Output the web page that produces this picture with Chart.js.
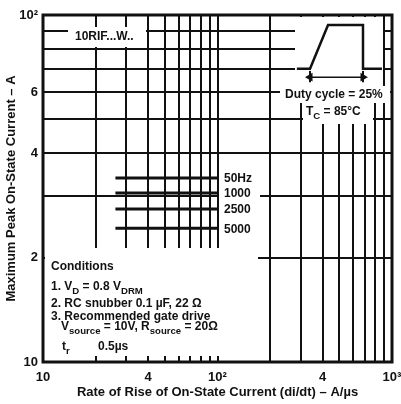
<!DOCTYPE html>
<html>
<head>
<meta charset="utf-8">
<script src="https://cdn.jsdelivr.net/npm/chart.js@4.4.0/dist/chart.umd.min.js"></script>
<style>
  html, body { margin: 0; padding: 0; background: #fff; }
</style>
</head>
<body>
<canvas id="chart" width="401" height="404"></canvas>
<script>
// Rejilla logarítmica
const xGrid = [10, 20, 30, 40, 50, 60, 70, 80, 90, 100, 200, 300, 400, 500, 600, 700, 800, 900, 1000];
const yGrid = [10, 20, 30, 40, 50, 60, 70, 80, 90, 100];
const xTickLabels = { 10: '10', 40: '4', 100: '10²', 400: '4', 1000: '10³' };
const yTickLabels = { 10: '10', 20: '2', 40: '4', 60: '6', 100: '10²' };

// Trazos de la leyenda (frecuencia de repetición)
const seriesNames = ['50Hz', '1000', '2500', '5000'];
const seriesLevels = [33.9, 30.7, 27.6, 24.3];
const seriesSpan = [26, 100];

// Esquema del pulso de corriente
const pulseX = [285, 339, 430, 682, 682, 876];
const pulseY = [70, 70, 93.6, 93.6, 70, 70];
const dimX = [339, 682];
const dimLevel = 66.2;
const dimTick = [64, 69];

const FONT = '"Liberation Sans", Arial, sans-serif';
const INK = '#111';

const datasets = [];

seriesLevels.forEach((lvl, i) => {
    datasets.push({
        label: seriesNames[i],
        data: seriesSpan.map(x => ({ x: x, y: lvl })),
        borderColor: INK,
        borderWidth: 3,
        pointRadius: 0
    });
});

datasets.push({
    label: 'pulso',
    data: pulseX.map((x, i) => ({ x: x, y: pulseY[i] })),
    borderColor: INK,
    borderWidth: 2.5,
    pointRadius: 0
});

datasets.push({
    label: 'cota',
    data: dimX.map(x => ({ x: x, y: dimLevel })),
    borderColor: INK,
    borderWidth: 1.5,
    pointStyle: 'triangle',
    pointRadius: 3.5,
    pointRotation: [270, 90],
    pointBackgroundColor: INK,
    pointBorderColor: INK
});

dimX.forEach(x => {
    datasets.push({
        label: 'tope',
        data: dimTick.map(y => ({ x: x, y: y })),
        borderColor: INK,
        borderWidth: 2,
        pointRadius: 0
    });
});

// Texto con subíndices
function drawRich(ctx, x, y, parts, size) {
    let cx = x;
    parts.forEach(p => {
        const txt = typeof p === 'string' ? p : p[0];
        const kind = typeof p === 'string' ? null : p[1];
        const fs = kind ? size * 0.8 : size;
        ctx.font = 'bold ' + fs + 'px ' + FONT;
        const dy = kind === 'sub' ? size * 0.35 : 0;
        ctx.fillText(txt, cx, y + dy);
        cx += ctx.measureText(txt).width;
    });
}

// Zonas en blanco donde el original interrumpe la rejilla
const maskPlugin = {
    id: 'masks',
    beforeDatasetsDraw(chart) {
        const ctx = chart.ctx;
        const boxes = [
            [68, 27, 146, 47],     // etiqueta del tipo
            [295, 17, 383, 86],    // pulso
            [280, 86, 390, 103],   // duty cycle
            [303, 103, 373, 124],  // Tc
            [219, 168, 260, 236],  // nombres de la leyenda
            [45, 248, 258, 356]    // condiciones
        ];
        ctx.save();
        ctx.fillStyle = '#fff';
        boxes.forEach(b => ctx.fillRect(b[0], b[1], b[2] - b[0], b[3] - b[1]));
        ctx.restore();
    },
    afterDraw(chart) {
        const ctx = chart.ctx;
        const a = chart.chartArea;
        ctx.save();
        ctx.strokeStyle = INK;
        ctx.lineWidth = 3;
        ctx.strokeRect(a.left, a.top, a.right - a.left, a.bottom - a.top);

        ctx.fillStyle = INK;
        ctx.textBaseline = 'middle';
        ctx.textAlign = 'left';

        drawRich(ctx, 75, 37, ['10RIF...W..'], 12);

        seriesNames.forEach((name, i) => {
            const y = chart.scales.y.getPixelForValue(seriesLevels[i]);
            drawRich(ctx, 224, y + 1, [name], 12);
        });

        drawRich(ctx, 285, 95, ['Duty cycle = 25%'], 12);
        drawRich(ctx, 306, 112, ['T', ['C', 'sub'], ' = 85°C'], 12);

        drawRich(ctx, 51, 267, ['Conditions'], 12);
        drawRich(ctx, 51, 287, ['1. V', ['D', 'sub'], ' = 0.8 V', ['DRM', 'sub']], 12);
        drawRich(ctx, 51, 304, ['2. RC snubber 0.1 µF, 22 Ω'], 12);
        drawRich(ctx, 51, 317, ['3. Recommended gate drive'], 12);
        drawRich(ctx, 61, 327, ['V', ['source', 'sub'], ' = 10V, R', ['source', 'sub'], ' = 20Ω'], 12);
        drawRich(ctx, 62, 347, ['t', ['r', 'sub']], 12);
        drawRich(ctx, 98, 347, ['0.5µs'], 12);
        ctx.restore();
    }
};

function fixedTicks(values) {
    return scale => {
        scale.ticks = values.map(v => ({ value: v }));
    };
}

new Chart(document.getElementById('chart'), {
    type: 'line',
    data: { datasets: datasets },
    options: {
        responsive: false,
        animation: false,
        parsing: true,
        layout: { padding: { top: 15, right: 9, left: 0, bottom: 0 } },
        plugins: {
            legend: { display: false },
            tooltip: { enabled: false }
        },
        elements: { line: { tension: 0, borderCapStyle: 'butt' } },
        scales: {
            x: {
                type: 'logarithmic',
                min: 10,
                max: 1000,
                afterBuildTicks: fixedTicks(xGrid),
                afterFit: scale => {
                    scale.height = 42;
                    scale.paddingLeft = 0;
                    scale.paddingRight = 0;
                },
                grid: { color: INK, lineWidth: 2, drawTicks: false },
                border: { display: false },
                ticks: {
                    autoSkip: false,
                    maxRotation: 0,
                    padding: 8,
                    color: INK,
                    font: { family: FONT, size: 13, weight: 'bold' },
                    callback: v => xTickLabels[v] || ''
                },
                title: {
                    display: true,
                    text: 'Rate of Rise of On-State Current (di/dt) – A/µs',
                    color: INK,
                    font: { family: FONT, size: 13, weight: 'bold' }
                }
            },
            y: {
                type: 'logarithmic',
                min: 10,
                max: 100,
                afterBuildTicks: fixedTicks(yGrid),
                afterFit: scale => {
                    scale.width = 43;
                    scale.paddingTop = 0;
                    scale.paddingBottom = 0;
                },
                grid: { color: INK, lineWidth: 2, drawTicks: false },
                border: { display: false },
                ticks: {
                    autoSkip: false,
                    padding: 5,
                    color: INK,
                    font: { family: FONT, size: 13, weight: 'bold' },
                    callback: v => yTickLabels[v] || ''
                },
                title: {
                    display: true,
                    text: 'Maximum Peak On-State Current – A',
                    color: INK,
                    font: { family: FONT, size: 13, weight: 'bold' }
                }
            }
        }
    },
    plugins: [maskPlugin]
});
</script>
</body>
</html>
